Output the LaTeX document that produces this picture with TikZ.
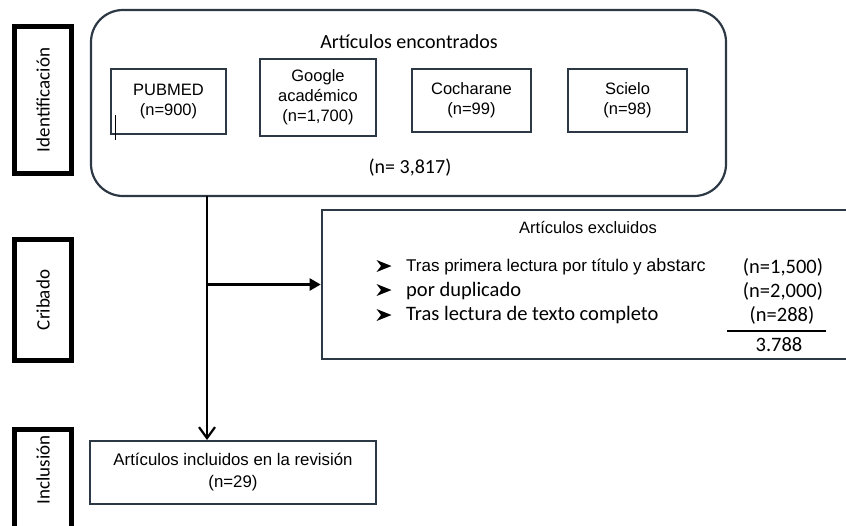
\documentclass[tikz,border=0pt]{standalone}
\usepackage{fontspec}
\setmainfont{Liberation Sans}
\newfontfamily\calibri{Carlito}
\usetikzlibrary{arrows.meta}
\definecolor{borde}{RGB}{44,56,68}

\begin{document}
\begin{tikzpicture}[x=1pt, y=-1pt,
    etapa/.style={draw, line width=5pt, rotate=90, inner sep=0pt, font=\calibri\fontsize{19}{22}\selectfont},
    fuente/.style={draw=borde, line width=1.4pt, align=center, inner sep=0pt, font=\fontsize{16.5}{20}\selectfont},
    fila/.style={anchor=west, inner sep=0pt},
    valor/.style={inner sep=0pt, font=\calibri\fontsize{20.5}{24}\selectfont}]

\useasboundingbox (0,0) rectangle (846,525);

% etapas
\node[etapa, minimum width=147, minimum height=57] (ident) at (43,100) {Identificación};
\node[etapa, minimum width=121, minimum height=57] (crib) at (43,300) {Cribado};
\node[etapa, minimum width=112, minimum height=57] (inclu) at (43,485) {};
\node[etapa, draw=none] (incluT) at (43,470) {Inclusión};

% articulos encontrados
\node[draw=borde, line width=2.2pt, rounded corners=32, minimum width=635, minimum height=186] (encon) at (408.5,103) {};
\node[font=\calibri\fontsize{20}{24}\selectfont] (enconT) at (409,42) {Artículos encontrados};
\node[fuente, minimum width=115, minimum height=65] (pubmed) at (168.5,101.5) {PUBMED\\(n=900)};
\node[fuente, minimum width=116, minimum height=77] (google) at (318,97.5) {Google\\académico\\(n=1,700)};
\node[fuente, minimum width=119, minimum height=63] (cochr) at (471.5,100.5) {Cocharane\\(n=99)};
\node[fuente, minimum width=119, minimum height=63] (scielo) at (627.5,100.5) {Scielo\\(n=98)};
\node[font=\calibri\fontsize{20}{24}\selectfont] (total) at (410,168) {(n= 3,817)};
\draw[line width=0.8pt] (115,115) -- (115,140);

% articulos excluidos
\node[draw=borde, line width=2.6pt, minimum width=530, minimum height=149] (excl) at (587,284.5) {};
\node[font=\fontsize{16.5}{20}\selectfont] (exclT) at (588,228) {Artículos excluidos};
\coordinate (b1) at (384,266);
\coordinate (b2) at (384,290);
\coordinate (b3) at (384,315);
\foreach \b in {b1,b2,b3}
  \fill (\b) ++(-7.5,-6) -- ++(15,6) -- ++(-15,6) -- ++(4.5,-6) -- cycle;
\node[fila, font=\fontsize{17}{20}\selectfont] (f1) at (406,267) {Tras primera lectura por título y {\fontsize{18}{20}\selectfont abstarc}};
\node[fila, font=\calibri\fontsize{20.5}{24}\selectfont] (f2) at (406,291) {por duplicado};
\node[fila, font=\calibri\fontsize{20.5}{24}\selectfont] (f3) at (406,315) {Tras lectura de texto completo};
\node[valor] (v1) at (783,267) {(n=1,500)};
\node[valor] (v2) at (783,291) {(n=2,000)};
\node[valor] (v3) at (782,315) {(n=288)};
\coordinate (rayaA) at (727,331);
\coordinate (rayaB) at (826,331);
\draw[line width=1.2pt] (rayaA) -- (rayaB);
\node[valor] (suma) at (779,345) {3.788};

% articulos incluidos
\node[fuente, line width=2pt, minimum width=286, minimum height=63, font=\fontsize{16.8}{22}\selectfont] (incl) at (233,472.5) {Artículos incluidos en la revisión\\(n=29)};

% flechas
\coordinate (bajada) at (207,196);
\draw[line width=2.2pt, -{Straight Barb[length=11pt,width=16pt]}] (bajada) -- (bajada |- incl.north);
\draw[line width=2.2pt, -{Triangle[length=11pt,width=12pt]}] (bajada |- excl.west) -- (excl.west);
\end{tikzpicture}
\end{document}
